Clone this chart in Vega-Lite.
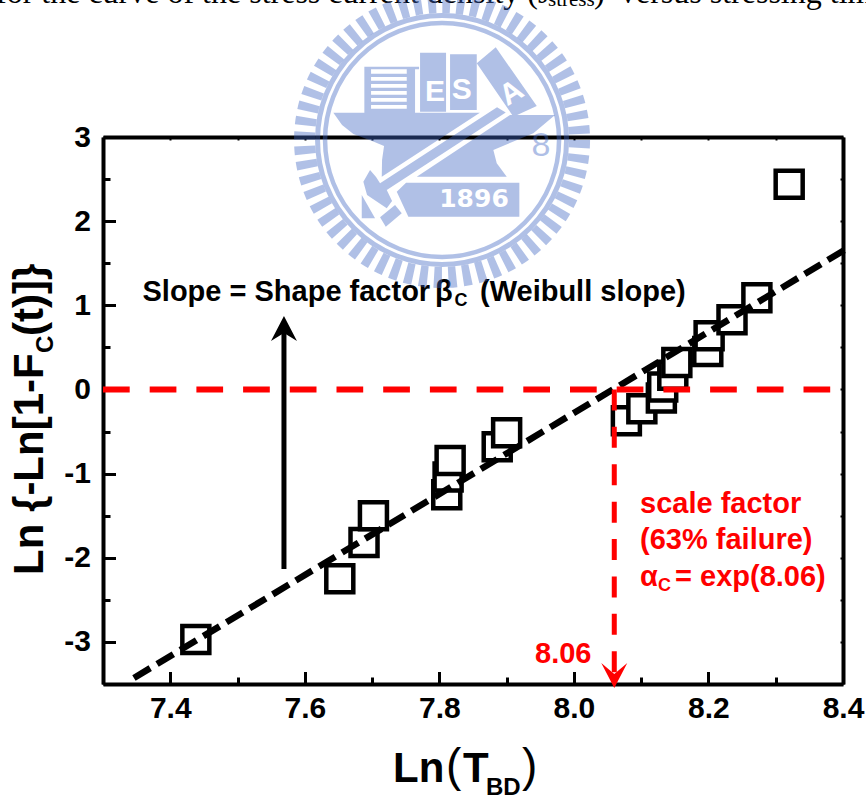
{"$schema":"https://vega.github.io/schema/vega-lite/v6.json","width":740,"height":547,"autosize":{"type":"none"},"padding":{"left":103,"top":137,"right":23,"bottom":115},"background":"white","config":{"view":{"stroke":null},"text":{"font":"Liberation Sans"}},"datasets":{"points":[{"x":7.438,"y":-2.97},{"x":7.652,"y":-2.25},{"x":7.688,"y":-1.82},{"x":7.702,"y":-1.5},{"x":7.811,"y":-1.25},{"x":7.813,"y":-1.04},{"x":7.816,"y":-0.845},{"x":7.886,"y":-0.68},{"x":7.9,"y":-0.515},{"x":8.078,"y":-0.373},{"x":8.101,"y":-0.23},{"x":8.13,"y":-0.1},{"x":8.132,"y":0.03},{"x":8.147,"y":0.17},{"x":8.153,"y":0.32},{"x":8.199,"y":0.45},{"x":8.201,"y":0.637},{"x":8.235,"y":0.827},{"x":8.272,"y":1.09},{"x":8.32,"y":2.44}],"fit":[{"x":7.346,"y":-3.428},{"x":8.407,"y":1.68}],"hline":[{"x":7.3,"y":0},{"x":8.4,"y":0}],"vline":[{"x":8.06,"y":0},{"x":8.06,"y":-3.5}],"arrowShaft":[{"x":7.569,"y":-2.133},{"x":7.569,"y":0.76}],"blackTip":[{"x":7.569,"y":0.873}],"redTip":[{"x":8.06,"y":-3.5}],"blackText":[{"x":7.3587,"y":1.052,"label":"Slope = Shape factor"},{"x":7.7935,"y":1.052,"label":"β"},{"x":7.8604,"y":1.052,"label":"(Weibull slope)"}],"blackSub":[{"x":7.8225,"y":0.992,"label":"C"}],"redText":[{"x":8.0983,"y":-1.468,"label":"scale factor"},{"x":8.0983,"y":-1.895,"label":"(63% failure)"},{"x":8.0983,"y":-2.335,"label":"α"},{"x":8.1503,"y":-2.335,"label":"= exp(8.06)"},{"x":7.9422,"y":-3.247,"label":"8.06"}],"redSub":[{"x":8.125,"y":-2.395,"label":"C"}],"yTitle":[{"x":7.2108,"y":-2.204,"label":"Ln {-Ln[1-F"},{"x":7.2108,"y":0.636,"label":"(t)]}"}],"yTitleSub":[{"x":7.2257,"y":0.434,"label":"C"}],"xTitle":[{"x":7.7311,"y":-4.661,"label":"Ln"},{"x":7.8352,"y":-4.661,"label":"T"}],"xParen":[{"x":7.8099,"y":-4.652,"label":"("},{"x":7.9229,"y":-4.652,"label":")"}],"xTitleSub":[{"x":7.8693,"y":-4.819,"label":"BD"}],"header":[{"x":7.1409,"y":4.593,"label":"for the curve of the stress current density ("},{"x":7.9467,"y":4.593,"label":"J"},{"x":8.0299,"y":4.593,"label":")"},{"x":8.0685,"y":4.593,"label":"versus stressing time"}],"headerSub":[{"x":7.9615,"y":4.556,"label":"stress"}],"logo":[{"x":7.804,"y":2.965}],"logoLetters":[{"x":7.7935,"y":3.539,"label":"E"},{"x":7.8332,"y":3.559,"label":"S"}],"logoA":[{"x":7.9075,"y":3.52,"label":"A"}],"logoYear":[{"x":7.8515,"y":2.26,"label":"1896"}],"logoEight":[{"x":7.951,"y":2.775,"label":"8"}]},"encoding":{"x":{"field":"x","type":"quantitative","scale":{"domain":[7.3,8.4],"nice":false,"zero":false},"axis":null},"y":{"field":"y","type":"quantitative","scale":{"domain":[-3.5,3],"nice":false,"zero":false},"axis":null},"text":{"field":"label"}},"resolve":{"axis":{"x":"independent","y":"independent"}},"layer":[{"data":{"name":"points"},"mark":{"type":"point","shape":"square","size":729,"filled":true,"fill":"white","stroke":"black","strokeWidth":4.5,"opacity":1},"encoding":{"text":null,"x":{"field":"x","type":"quantitative","scale":{"domain":[7.3,8.4],"nice":false,"zero":false},"axis":{"orient":"bottom","title":null,"values":[7.3,7.4,7.5,7.6,7.7,7.8,7.9,8.0,8.1,8.2,8.3,8.4],"labelExpr":"round(datum.value*10)%2==0 ? format(datum.value,'.1f') : ''","labelFont":"Liberation Sans","labelFontWeight":"bold","labelFontSize":30,"labelColor":"black","labelPadding":22,"labelOverlap":false,"labelBound":false,"labelFlush":false,"labelAngle":0,"grid":false,"domainColor":"black","domainWidth":4,"tickColor":"black","tickWidth":3,"tickSize":{"condition":{"test":"round(datum.value*10)%2==0","value":-12.5},"value":-7}}},"y":{"field":"y","type":"quantitative","scale":{"domain":[-3.5,3],"nice":false,"zero":false},"axis":{"orient":"left","title":null,"values":[-3.5,-3,-2.5,-2,-1.5,-1,-0.5,0,0.5,1,1.5,2,2.5,3],"labelExpr":"datum.value%1==0 ? ''+datum.value : ''","labelFont":"Liberation Sans","labelFontWeight":"bold","labelFontSize":30,"labelColor":"black","labelPadding":25,"labelOverlap":false,"labelBound":false,"labelFlush":false,"grid":false,"domainColor":"black","domainWidth":4,"tickColor":"black","tickWidth":3,"tickSize":{"condition":{"test":"datum.value%1==0","value":-12.5},"value":-7}}}}},{"data":{"name":"fit"},"mark":{"type":"line","color":"black","strokeWidth":6.5,"strokeDash":[19,8]},"encoding":{"text":null,"x":{"field":"x","type":"quantitative","scale":{"domain":[7.3,8.4],"nice":false,"zero":false},"axis":{"orient":"top","title":null,"labels":false,"values":[7.3,7.4,7.5,7.6,7.7,7.8,7.9,8.0,8.1,8.2,8.3,8.4],"grid":false,"domainColor":"black","domainWidth":4,"tickColor":"black","tickWidth":2,"tickSize":-3}},"y":{"field":"y","type":"quantitative","scale":{"domain":[-3.5,3],"nice":false,"zero":false},"axis":{"orient":"right","title":null,"labels":false,"values":[-3.5,-3,-2.5,-2,-1.5,-1,-0.5,0,0.5,1,1.5,2,2.5,3],"grid":false,"domainColor":"black","domainWidth":4,"tickColor":"black","tickWidth":2,"tickSize":-3}}}},{"data":{"name":"hline"},"mark":{"type":"line","color":"#ff0000","strokeWidth":6,"strokeDash":[26.7,20]},"encoding":{"text":null}},{"data":{"name":"vline"},"mark":{"type":"line","color":"#ff0000","strokeWidth":5,"strokeDash":[21,16.4]},"encoding":{"text":null}},{"data":{"name":"arrowShaft"},"mark":{"type":"line","color":"black","strokeWidth":5},"encoding":{"text":null}},{"data":{"name":"blackTip"},"mark":{"type":"point","filled":true,"color":"black","opacity":1,"size":4,"shape":"M0 0L-13 25L0 17L13 25Z"},"encoding":{"text":null}},{"data":{"name":"redTip"},"mark":{"type":"point","filled":true,"color":"#ff0000","opacity":1,"size":4,"shape":"M0 4L-13 -21L0 -10L13 -21Z"},"encoding":{"text":null}},{"data":{"name":"blackText"},"mark":{"type":"text","align":"left","baseline":"alphabetic","fontSize":29,"fontWeight":"bold","color":"black"}},{"data":{"name":"blackSub"},"mark":{"type":"text","align":"left","baseline":"alphabetic","fontSize":18,"fontWeight":"bold","color":"black"}},{"data":{"name":"redText"},"mark":{"type":"text","align":"left","baseline":"alphabetic","fontSize":29,"fontWeight":"bold","color":"#ff0000"}},{"data":{"name":"redSub"},"mark":{"type":"text","align":"left","baseline":"alphabetic","fontSize":18,"fontWeight":"bold","color":"#ff0000"}},{"data":{"name":"yTitle"},"mark":{"type":"text","align":"left","baseline":"alphabetic","angle":270,"fontSize":42,"fontWeight":"bold","color":"black"}},{"data":{"name":"yTitleSub"},"mark":{"type":"text","align":"left","baseline":"alphabetic","angle":270,"fontSize":24,"fontWeight":"bold","color":"black"}},{"data":{"name":"xTitle"},"mark":{"type":"text","align":"left","baseline":"alphabetic","fontSize":42,"fontWeight":"bold","color":"black"}},{"data":{"name":"xParen"},"mark":{"type":"text","align":"left","baseline":"alphabetic","fontSize":46,"fontWeight":"normal","color":"black"}},{"data":{"name":"xTitleSub"},"mark":{"type":"text","align":"left","baseline":"alphabetic","fontSize":24,"fontWeight":"bold","color":"black"}},{"data":{"name":"header"},"mark":{"type":"text","align":"left","baseline":"alphabetic","font":"Liberation Serif","fontSize":32,"color":"black"}},{"data":{"name":"headerSub"},"mark":{"type":"text","align":"left","baseline":"alphabetic","font":"Liberation Serif","fontSize":21,"color":"black"}},{"data":{"name":"logo"},"mark":{"type":"point","shape":"circle","filled":false,"size":75625,"stroke":"#3F66C3","strokeOpacity":0.41,"opacity":1,"strokeWidth":21,"strokeDash":[8,6.4]},"encoding":{"text":null}},{"data":{"name":"logo"},"mark":{"type":"point","shape":"circle","filled":false,"size":62001,"stroke":"#3F66C3","strokeOpacity":0.41,"opacity":1,"strokeWidth":5},"encoding":{"text":null}},{"data":{"name":"logo"},"mark":{"type":"point","shape":"circle","filled":false,"size":54756,"stroke":"#3F66C3","strokeOpacity":0.41,"opacity":1,"strokeWidth":4.5},"encoding":{"text":null}},{"data":{"name":"logo"},"mark":{"type":"point","filled":true,"fill":"#3F66C3","fillOpacity":0.41,"opacity":1,"size":4,"shape":"M-77.7 -73.3L-23 -73.3L-23 -70.7L-27 -70.7L-27 -27.3L-35.3 -27.3L-35.3 -70.7L-71 -70.7L-71 -27.3L-77.7 -27.3ZM-71 -66.3L-35.3 -66.3L-35.3 -63L-71 -63ZM-71 -59.3L-35.3 -59.3L-35.3 -56L-71 -56ZM-71 -52.3L-35.3 -52.3L-35.3 -49L-71 -49ZM-71 -45.3L-35.3 -45.3L-35.3 -42L-71 -42ZM-71 -38.3L-35.3 -38.3L-35.3 -35L-71 -35ZM-71 -31.3L-35.3 -31.3L-35.3 -27.3L-71 -27.3ZM-22 -87.3L4 -87.3L4 -28.3L-22 -28.3ZM8 -85.7L34.7 -85.7L34.7 -30L8 -30ZM34.7 -76.7L53.7 -92.7L94.7 -34L71.3 -23.3ZM-108.7 -27.3L37.8 -27.3L-60.3 36.7L-60 20L-58 6L-70 1L-88.7 -6L-100 -15ZM68 -25L113 -25L91.3 -6.7L51.3 10L54.7 23.3L64.7 36.7L-25.3 36.7ZM55 -32.7L63.7 -27.4L-55.3 50L-62 43.3ZM-72 30L-66 37L-62 43.3L-55.3 50L-50 61L-55.3 68.3L-75 55L-78.7 41.7ZM-80.3 55L-67 78.3L-80.3 78.3ZM-62 77.3L-47 65L-40.3 73.3L-56.3 86.7ZM-45.3 51.7L-36 42.7L77.3 42.7L77.3 76.7L-33.7 76.7Z"},"encoding":{"text":null}},{"data":{"name":"logoLetters"},"mark":{"type":"text","align":"center","baseline":"middle","font":"Liberation Sans","fontSize":30,"fontWeight":"bold","color":"white"}},{"data":{"name":"logoA"},"mark":{"type":"text","align":"center","baseline":"middle","font":"Liberation Sans","fontSize":30,"fontWeight":"bold","angle":328,"color":"white"}},{"data":{"name":"logoYear"},"mark":{"type":"text","align":"center","baseline":"middle","font":"DejaVu Sans","fontSize":25,"fontWeight":"bold","color":"white"}},{"data":{"name":"logoEight"},"mark":{"type":"text","align":"center","baseline":"alphabetic","font":"Liberation Sans","fontSize":34,"color":"#3F66C3","opacity":0.41}}]}
